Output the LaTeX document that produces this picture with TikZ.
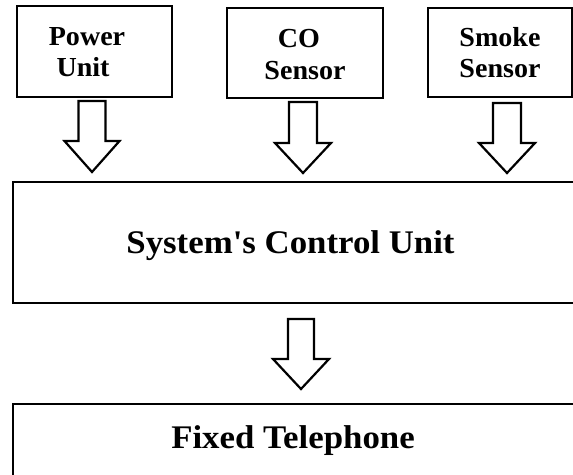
\documentclass[tikz,border=0pt]{standalone}
\usepackage{fontspec}
\setmainfont{Liberation Serif}
\usetikzlibrary{calc}

% slightly widened serif faces for the block labels
\newfontfamily\blkSmallFam{Liberation Serif}[FakeStretch=1.02]
\newfontfamily\blkBigFam{Liberation Serif}[FakeStretch=1.055]
\newcommand\blkSmallFont{\blkSmallFam\bfseries\fontsize{27.5}{31}\selectfont}
\newcommand\blkBigFont{\blkBigFam\bfseries\fontsize{33}{38}\selectfont}

\tikzset{
  blk/.style={draw, line width=2.8pt, inner sep=0pt, outer sep=0pt, fill=white},
  lbl/.style={font=\blkSmallFont, anchor=base, inner sep=0pt},
  ttl/.style={font=\blkBigFont, anchor=base, inner sep=0pt},
  hollow/.style={draw, line width=2.2pt, line join=miter, fill=white},
}

% hollow block arrow: #1 top point, #2 tip, #3 half shaft width,
% #4 half head width, #5 head length
\newcommand\hollowarrow[5]{%
  \draw[hollow] let \p1=(#1), \p2=(#2) in
    (\x2-#3pt,\y1) -- (\x2+#3pt,\y1) -- (\x2+#3pt,\y2+#5pt)
    -- (\x2+#4pt,\y2+#5pt) -- (\x2,\y2) -- (\x2-#4pt,\y2+#5pt)
    -- (\x2-#3pt,\y2+#5pt) -- cycle;}

\begin{document}
\begin{tikzpicture}[x=1pt, y=-1pt]
  \useasboundingbox (0,0) rectangle (573,474);
  \clip (0,0) rectangle (573,474);

  % input blocks
  \node[blk, minimum width=155pt, minimum height=91pt] (pu) at (94.5,51.5) {};
  \node[blk, minimum width=156pt, minimum height=90pt] (co) at (305,53) {};
  \node[blk, minimum width=144pt, minimum height=89pt] (sm) at (500,52.5) {};

  \node[lbl] (pu-l1) at (87,45) {Power};
  \node[lbl] (pu-l2) at (83,76) {Unit};
  \node[lbl] (co-l1) at (299,47) {CO};
  \node[lbl] (co-l2) at (305,79) {Sensor};
  \node[lbl] (sm-l1) at (500,46) {Smoke};
  \node[lbl] (sm-l2) at (500,77) {Sensor};

  % control unit and output block
  \node[blk, minimum width=607pt, minimum height=121pt] (cu) at (316.5,242.5) {};
  \node[ttl] (cu-l) at (290.5,253) {System's Control Unit};

  \node[blk, minimum width=607pt, minimum height=116pt] (ft) at (316.5,462) {};
  \node[ttl] (ft-l) at (293,448) {Fixed Telephone};

  % arrow end points
  \coordinate (a1-top) at ($(pu.south)+(-2,4)$);
  \coordinate (a1-tip) at ($(pu.south |- cu.north)+(-2.5,-10)$);
  \coordinate (a2-top) at ($(co.south)+(-2,4)$);
  \coordinate (a2-tip) at ($(co.south |- cu.north)+(-2,-9)$);
  \coordinate (a3-top) at ($(sm.south)+(7,6)$);
  \coordinate (a3-tip) at ($(sm.south |- cu.north)+(7,-9)$);
  \coordinate (a4-top) at ($(cu.south)+(-15.5,16)$);
  \coordinate (a4-tip) at ($(cu.south |- ft.north)+(-15.5,-15)$);

  \hollowarrow{a1-top}{a1-tip}{13.5}{27.5}{31}
  \hollowarrow{a2-top}{a2-tip}{14}{28}{30}
  \hollowarrow{a3-top}{a3-tip}{14}{28}{30}
  \hollowarrow{a4-top}{a4-tip}{13}{28}{30}
\end{tikzpicture}
\end{document}
